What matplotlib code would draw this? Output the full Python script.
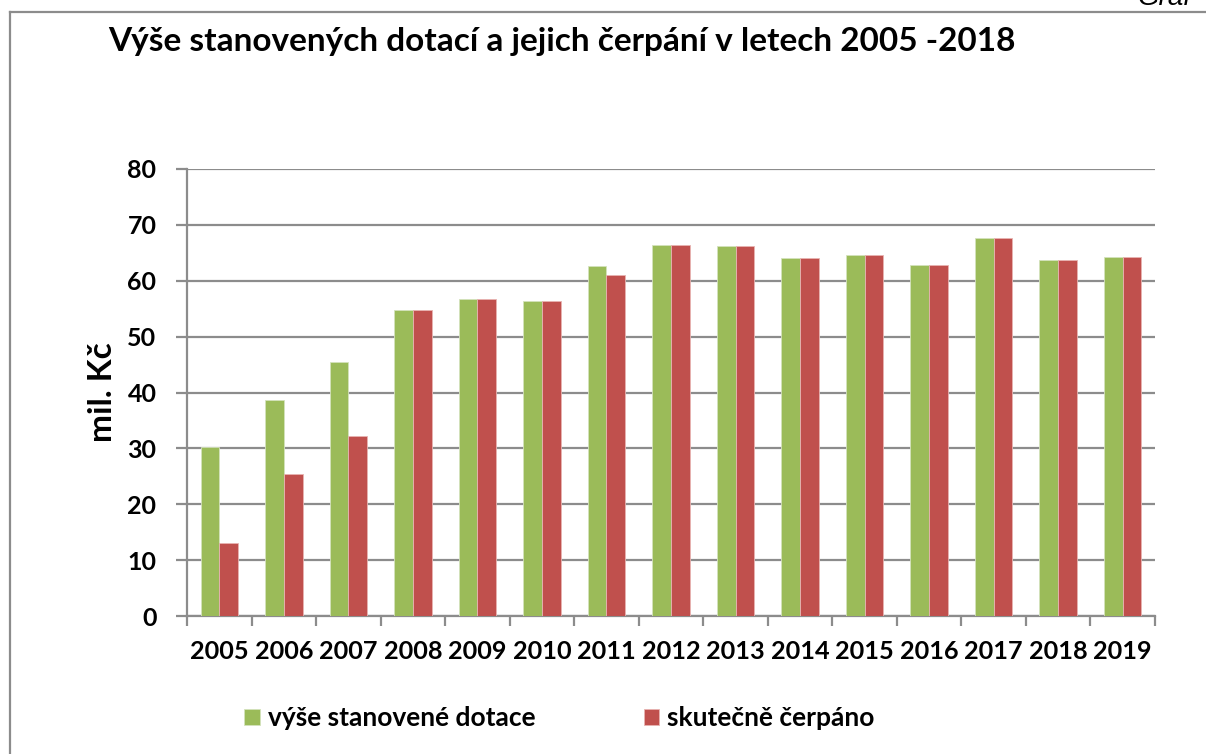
import matplotlib
matplotlib.use("Agg")
import matplotlib.pyplot as plt
import numpy as np

years = ["2005", "2006", "2007", "2008", "2009", "2010", "2011", "2012",
         "2013", "2014", "2015", "2016", "2017", "2018", "2019"]
stanovene = [30.3, 38.6, 45.5, 54.8, 56.8, 56.4, 62.6, 66.4,
             66.2, 64.0, 64.6, 62.8, 67.6, 63.7, 64.2]
cerpano = [13.1, 25.4, 32.3, 54.8, 56.8, 56.4, 61.0, 66.4,
           66.2, 64.0, 64.6, 62.8, 67.6, 63.7, 64.2]
y_ticks = [0, 10, 20, 30, 40, 50, 60, 70, 80]

GREEN = "#9BBB59"
RED = "#C0504D"
GRID = "#8C8C8C"
FONT = ["Lato", "Open Sans", "DejaVu Sans"]

plt.rcParams["font.family"] = FONT
plt.rcParams["font.weight"] = "bold"

W, H = 1206, 754
fig = plt.figure(figsize=(W / 100, H / 100), dpi=100)

# frame of the chart area (right and bottom are cut off in the original)
fig.add_artist(plt.Line2D([10 / W, 10 / W], [0, 1 - 12 / H], color=GRID, lw=1.6))
fig.add_artist(plt.Line2D([10 / W, 1], [1 - 12 / H, 1 - 12 / H], color=GRID, lw=1.6))
fig.text(1192 / W, 1 - 5 / H, "Graf", ha="right", va="baseline", fontsize=20,
         style="italic", weight="normal", family="Liberation Sans")

ax = fig.add_axes([187 / W, 1 - 616 / H, 968 / W, 447 / H])

x = np.arange(len(years))
w = 0.29
b1 = ax.bar(x - w / 2, stanovene, w, color=GREEN, edgecolor="#D4E3BC", lw=0.6,
            label="výše stanovené dotace", zorder=3)
b2 = ax.bar(x + w / 2, cerpano, w, color=RED, edgecolor="#E8B4B2", lw=0.6,
            label="skutečně čerpáno", zorder=3)

ax.set_xlim(-0.5, len(years) - 0.5)
ax.set_ylim(0, 80)
ax.set_yticks(y_ticks)
ax.set_xticks(x)
ax.set_xticklabels(years)
ax.set_xticks(np.arange(-0.5, len(years)), minor=True)

ax.tick_params(axis="x", which="major", length=0, pad=17, labelsize=18.2)
ax.tick_params(axis="x", which="minor", length=7, width=1.6, color=GRID, direction="out")
ax.tick_params(axis="y", length=8, width=1.6, color=GRID, pad=14, labelsize=18)

ax.grid(axis="y", color=GRID, lw=1.6, zorder=0)
ax.set_axisbelow(True)
for s in ["top", "right"]:
    ax.spines[s].set_visible(False)
for s in ["left", "bottom"]:
    ax.spines[s].set_color(GRID)
    ax.spines[s].set_linewidth(1.6)

fig.text(108 / W, 1 - 51 / H, "Výše stanovených dotací a jejich čerpání v letech 2005 -2018",
         ha="left", va="baseline", fontsize=24, weight="bold")
fig.text(102 / W, 1 - 392 / H, "mil. Kč", rotation=90, ha="center", va="center",
         fontsize=24, weight="bold")

fig.legend(handles=[b1, b2], loc="center left", bbox_to_anchor=(244 / W, 1 - 718 / H),
           ncol=2, frameon=False, fontsize=19, handlelength=0.6, handleheight=0.55,
           handletextpad=0.3, columnspacing=4.1, borderpad=0, borderaxespad=0)

fig.savefig("out.png", dpi=100)
